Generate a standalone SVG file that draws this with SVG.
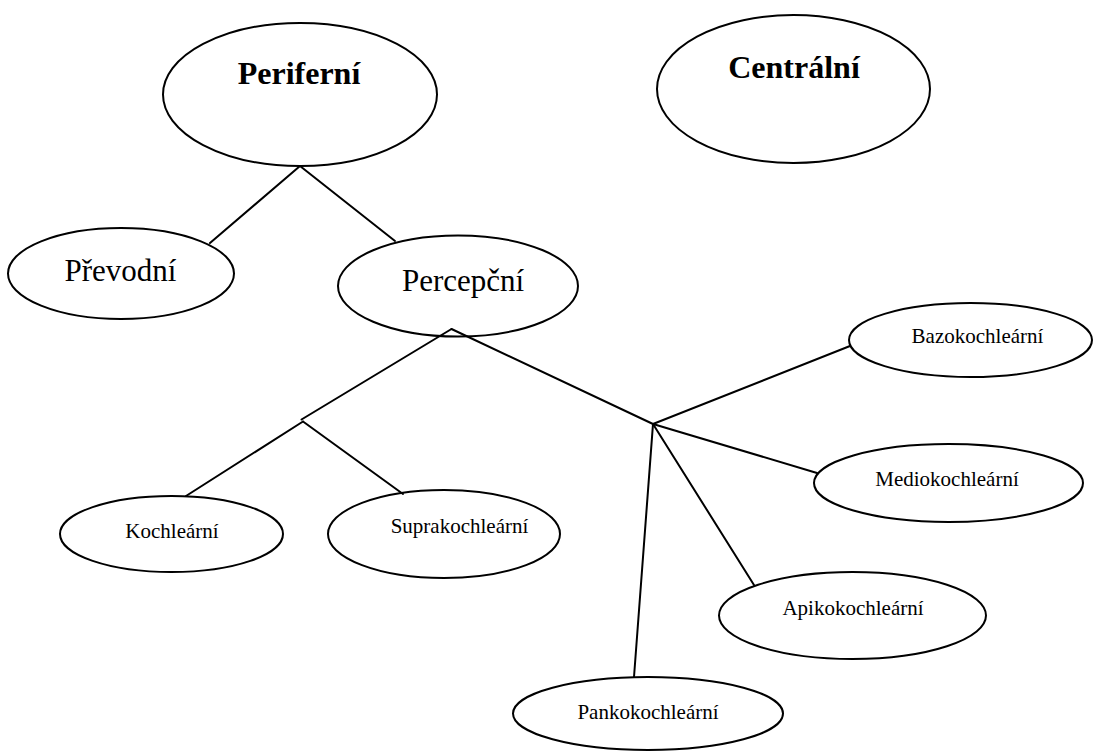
<svg xmlns="http://www.w3.org/2000/svg" width="1094" height="754" viewBox="0 0 1094 754">
<style>
.n ellipse{fill:#fff;stroke:#000;stroke-width:2}
.t{font-family:"Liberation Serif","Times New Roman",serif;fill:#000;text-anchor:middle}
.b{font-size:32px;font-weight:bold}
.m{font-size:31px}
.s{font-size:21px}
#connectors line{stroke:#000;stroke-width:2;stroke-linecap:round}
</style>
<rect width="1094" height="754" fill="#fff"/>
<g id="periferni" class="n"><ellipse cx="300" cy="94.5" rx="137" ry="71.5"/><text class="t b" x="299" y="84">Periferní</text></g>
<g id="centralni" class="n"><ellipse cx="793.5" cy="89" rx="136.5" ry="74"/><text class="t b" x="794" y="78">Centrální</text></g>
<g id="prevodni" class="n"><ellipse cx="121" cy="273.5" rx="113" ry="45.5"/><text class="t m" x="120.5" y="281">Převodní</text></g>
<g id="percepcni" class="n"><ellipse cx="458" cy="286" rx="120" ry="50.5"/><text class="t m" x="463" y="290.5">Percepční</text></g>
<g id="kochlearni" class="n"><ellipse cx="171.5" cy="534" rx="111.5" ry="38"/><text class="t s" x="172" y="538">Kochleární</text></g>
<g id="suprakochlearni" class="n"><ellipse cx="444" cy="534" rx="116" ry="44"/><text class="t s" x="459.5" y="533">Suprakochleární</text></g>
<g id="bazokochlearni" class="n"><ellipse cx="970.5" cy="340" rx="121.5" ry="37"/><text class="t s" x="977.5" y="343">Bazokochleární</text></g>
<g id="mediokochlearni" class="n"><ellipse cx="948.5" cy="483" rx="134.5" ry="39"/><text class="t s" x="947" y="485.5">Mediokochleární</text></g>
<g id="apikokochlearni" class="n"><ellipse cx="852.5" cy="615.5" rx="133.5" ry="43.5"/><text class="t s" x="853" y="615">Apikokochleární</text></g>
<g id="pankokochlearni" class="n"><ellipse cx="648" cy="713.5" rx="135" ry="36.5"/><text class="t s" x="648" y="719">Pankokochleární</text></g>
<g id="connectors">
<line x1="300" y1="166" x2="210" y2="243"/>
<line x1="300" y1="166" x2="395" y2="241"/>
<line x1="451.5" y1="329" x2="301.5" y2="419.5"/>
<line x1="451.5" y1="329" x2="653" y2="424"/>
<line x1="303" y1="421.5" x2="186" y2="496"/>
<line x1="303" y1="421.5" x2="403" y2="494"/>
<line x1="653" y1="424" x2="850" y2="346"/>
<line x1="653" y1="424" x2="817" y2="473"/>
<line x1="653" y1="424" x2="754" y2="585"/>
<line x1="653" y1="424" x2="634" y2="677"/>
</g>
</svg>
